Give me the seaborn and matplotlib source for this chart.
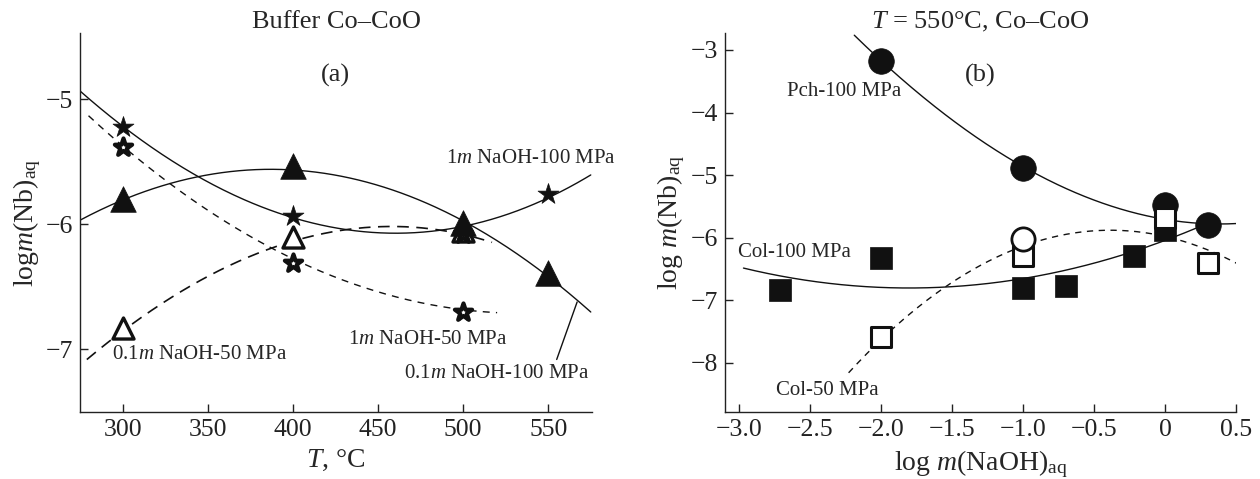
import numpy as np
import pandas as pd
import matplotlib
matplotlib.use("Agg")
import matplotlib.pyplot as plt
import seaborn as sns

# ---------------- data: panel (a), log m(Nb) vs T ----------------
T_1m_100 = [300, 400, 550]
Nb_1m_100 = [-5.22, -5.93, -5.76]          # filled stars
T_1m_50 = [300, 400, 500]
Nb_1m_50 = [-5.38, -6.31, -6.70]           # open stars
T_1m_50b = [500]
Nb_1m_50b = [-6.08]                        # open star hidden under the triangle at 500
T_01_100 = [300, 400, 500, 550]
Nb_01_100 = [-5.80, -5.53, -5.99, -6.39]   # filled triangles
T_01_50 = [300, 400, 500]
Nb_01_50 = [-6.83, -6.10, -6.05]           # open triangles

# smoothing traces for the fitted curves in (a)
fit_1m_100_x = [275, 300, 400, 460, 500, 550, 575]
fit_1m_100_y = [-4.93, -5.22, -5.93, -6.09, -6.02, -5.76, -5.62]
fit_01_100_x = [275, 300, 390, 500, 550, 575]
fit_01_100_y = [-5.97, -5.80, -5.56, -5.98, -6.40, -6.71]
fit_01_50_x = [279, 300, 350, 400, 430, 465, 517]
fit_01_50_y = [-7.09, -6.83, -6.45, -6.10, -6.05, -6.03, -6.14]
fit_1m_50_x = [280, 300, 350, 400, 450, 500, 520]
fit_1m_50_y = [-5.13, -5.38, -5.86, -6.31, -6.52, -6.68, -6.71]

# ---------------- data: panel (b), log m(Nb) vs log m(NaOH) at 550 °C ----------------
naoh_pch = [-2.0, -1.0, 0.0, 0.3]
nb_pch = [-3.18, -4.88, -5.48, -5.80]       # filled circles
naoh_pch_open = [-1.0]
nb_pch_open = [-6.03]                        # open circle
naoh_col100 = [-2.71, -2.0, -1.0, -0.70, -0.22, 0.0]
nb_col100 = [-6.84, -6.33, -6.81, -6.78, -6.30, -5.88]   # filled squares
naoh_col50 = [-2.0, -1.0, 0.0, 0.3]
nb_col50 = [-7.59, -6.30, -5.68, -6.41]     # open squares

fit_pch_x = [-2.19, -2.0, -1.0, 0.0, 0.3, 0.5]
fit_pch_y = [-2.78, -3.15, -4.88, -5.70, -5.78, -5.78]
fit_col100_x = [-2.97, -2.0, -1.8, -1.0, -0.46, -0.21, 0.25]
fit_col100_y = [-6.49, -6.79, -6.81, -6.66, -6.39, -6.20, -5.82]
fit_col50_x = [-2.23, -2.0, -1.0, -0.38, 0.01, 0.5]
fit_col50_y = [-8.17, -7.62, -6.14, -5.88, -5.99, -6.41]

xticks_a = [300, 350, 400, 450, 500, 550]
yticks_a = [-7, -6, -5]
xticks_b = [-3.0, -2.5, -2.0, -1.5, -1.0, -0.5, 0.0, 0.5]
xticklabels_b = ["\u22123.0", "\u22122.5", "\u22122.0", "\u22121.5", "\u22121.0", "\u22120.5", "0", "0.5"]
yticks_b = [-8, -7, -6, -5, -4, -3]

# ---------------- style ----------------
sns.set_style("ticks")
plt.rcParams.update({
    "font.family": ["Liberation Serif", "DejaVu Serif"],
    "mathtext.fontset": "custom",
    "mathtext.rm": "Liberation Serif",
    "mathtext.it": "Liberation Serif:italic",
    "mathtext.bf": "Liberation Serif:bold",
    "axes.edgecolor": "#222222",
    "axes.linewidth": 1.0,
    "xtick.direction": "in",
    "ytick.direction": "in",
    "xtick.major.size": 6,
    "ytick.major.size": 6,
    "xtick.major.width": 1.0,
    "ytick.major.width": 1.0,
    "xtick.color": "#222222",
    "ytick.color": "#222222",
    "axes.unicode_minus": True,
})

INK = "#111111"


def fitted(ax, xs, ys, deg, **kw):
    coef = np.polyfit(xs, ys, deg)
    xx = np.linspace(min(xs), max(xs), 300)
    df = pd.DataFrame({"x": xx, "y": np.polyval(coef, xx)})
    sns.lineplot(data=df, x="x", y="y", ax=ax, color=INK, estimator=None,
                 sort=False, legend=False, **kw)


def points(ax, xs, ys, marker, size, filled=True, lw=2.0, z=3):
    if filled:
        sns.scatterplot(x=xs, y=ys, ax=ax, marker=marker, s=size, color=INK,
                        edgecolor=INK, linewidth=0.5, zorder=z, legend=False)
    else:
        sns.scatterplot(x=xs, y=ys, ax=ax, marker=marker, s=size, color="white",
                        edgecolor=INK, linewidth=lw, zorder=z, legend=False)


fig = plt.figure(figsize=(12.6, 4.79), dpi=100)
ax1 = fig.add_axes([0.0635, 0.1399, 0.4063, 0.791])
ax2 = fig.add_axes([0.5754, 0.1399, 0.4059, 0.791])

# ---------------- panel (a) ----------------
fitted(ax1, fit_1m_100_x, fit_1m_100_y, 3, linewidth=1.0)
fitted(ax1, fit_01_100_x, fit_01_100_y, 3, linewidth=1.0)
fitted(ax1, fit_01_50_x, fit_01_50_y, 3, linewidth=1.2, dashes=(7, 4.5))
fitted(ax1, fit_1m_50_x, fit_1m_50_y, 3, linewidth=1.0, dashes=(5, 4.5))

points(ax1, T_01_50, Nb_01_50, "^", 230, filled=False, lw=2.4, z=3)
points(ax1, T_1m_50, Nb_1m_50, "*", 170, filled=False, lw=3.0, z=3)
points(ax1, T_1m_50b, Nb_1m_50b, "*", 170, filled=False, lw=3.0, z=3)
points(ax1, T_1m_100, Nb_1m_100, "*", 250, z=4)
points(ax1, T_01_100, Nb_01_100, "^", 340, z=5)

ax1.set_xlim(275, 575.7)
ax1.set_ylim(-7.5, -4.47)
ax1.set_xticks(xticks_a)
ax1.set_yticks(yticks_a)
ax1.tick_params(labelsize=18.5, pad=5)
ax1.set_xlabel("$T$, \u00b0C", fontsize=20, labelpad=5)
ax1.set_ylabel("log$m$(Nb)$_{\\mathrm{aq}}$", fontsize=20, labelpad=2)

ax1.text(425, -4.81, "(a)", fontsize=19, ha="center", va="center")
ax1.text(540, -5.47, "1$m$ NaOH-100 MPa", fontsize=15, ha="center", va="center", clip_on=False)
ax1.text(479, -6.92, "1$m$ NaOH-50 MPa", fontsize=15, ha="center", va="center")
ax1.text(345, -7.04, "0.1$m$ NaOH-50 MPa", fontsize=15, ha="center", va="center")
ax1.text(520, -7.19, "0.1$m$ NaOH-100 MPa", fontsize=15, ha="center", va="center", clip_on=False)
ax1.annotate("", xy=(567, -6.62), xytext=(555, -7.08),
             arrowprops=dict(arrowstyle="-", color=INK, lw=1.0, shrinkA=0, shrinkB=0))

# ---------------- panel (b) ----------------
fitted(ax2, fit_pch_x, fit_pch_y, 3, linewidth=1.0)
fitted(ax2, fit_col100_x, fit_col100_y, 2, linewidth=1.0)
fitted(ax2, fit_col50_x, fit_col50_y, 2, linewidth=1.0, dashes=(4.5, 4))

points(ax2, naoh_col100, nb_col100, "s", 260, z=3)
points(ax2, naoh_pch, nb_pch, "o", 340, z=4)
points(ax2, naoh_col50, nb_col50, "s", 200, filled=False, lw=2.2, z=5)
points(ax2, naoh_pch_open, nb_pch_open, "o", 280, filled=False, lw=2.0, z=6)

ax2.set_xlim(-3.1, 0.5)
ax2.set_ylim(-8.79, -2.73)
ax2.set_xticks(xticks_b)
ax2.set_xticklabels(xticklabels_b)
ax2.set_yticks(yticks_b)
ax2.tick_params(labelsize=18.5, pad=5)
ax2.set_xlabel("log $m$(NaOH)$_{\\mathrm{aq}}$", fontsize=20, labelpad=5)
ax2.set_ylabel("log $m$(Nb)$_{\\mathrm{aq}}$", fontsize=20, labelpad=3)

ax2.text(-1.30, -3.40, "(b)", fontsize=19, ha="center", va="center")
ax2.text(-2.26, -3.67, "Pch-100 MPa", fontsize=15, ha="center", va="center")
ax2.text(-2.61, -6.24, "Col-100 MPa", fontsize=15, ha="center", va="center")
ax2.text(-2.38, -8.44, "Col-50 MPa", fontsize=15, ha="center", va="center")

for ax in (ax1, ax2):
    sns.despine(ax=ax)
    ax.spines["left"].set_color("#222222")
    ax.spines["bottom"].set_color("#222222")

fig.text(0.2667, 0.954, "Buffer Co\u2013CoO", fontsize=19, ha="center", va="center")
fig.text(0.7783, 0.954, "$T$ = 550\u00b0C, Co\u2013CoO", fontsize=19, ha="center", va="center")

fig.savefig("out.png", dpi=100)
